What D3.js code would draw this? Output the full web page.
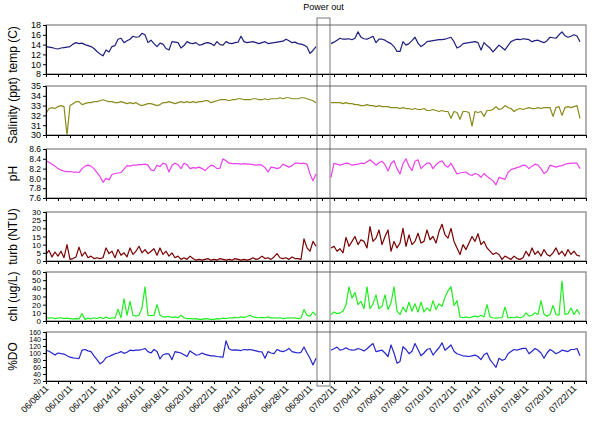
<!DOCTYPE html>
<html>
<head>
<meta charset="utf-8">
<script src="https://cdn.jsdelivr.net/npm/d3@7"></script>
<style>
  body { margin: 0; background: #fff; }
  svg { font-family: "Liberation Sans", Arial, sans-serif; }
  .axis path, .axis line { stroke: #000; }
  .axis text { font-size: 9px; fill: #000; }
</style>
</head>
<body>
<div id="chart"></div>
<script>
// time layout: two logged segments, 6-hourly values, gap = power out
var seg1Start = new Date(2011, 5, 8, 0);
var seg2Start = new Date(2011, 6, 1, 18);
var stepHours = 6;
var outStart = new Date(2011, 5, 30, 14);
var outEnd = new Date(2011, 6, 1, 16);

var tempA = [13.6,13.5,13.4,13.2, 13.1,13.3,13.4,13.5, 13.6,14.1,14.4,14.2, 14.3,14.0,13.8,13.6,
  13.2,12.6,12.1,11.7, 12.9,12.5,13.6,13.8, 15.1,15.3,14.4,14.8, 15.1,15.7,15.5,15.6,
  16.3,16.0,14.4,14.9, 14.2,13.6,14.3,14.1, 13.2,12.9,14.6,14.5, 14.4,13.3,13.8,14.6,
  14.3,14.2,14.4,13.9, 14.0,14.3,14.4,14.2, 13.8,14.6,14.0,13.9, 14.6,14.3,14.2,14.4,
  14.5,15.7,14.6,14.4, 14.5,14.6,14.4,14.2, 14.4,14.6,14.2,14.3, 14.4,14.5,14.6,14.7,
  15.1,14.8,14.4,14.5, 14.2,14.1,13.9,13.5, 12.2,12.8,13.6];
var tempB = [14.2, 14.5,14.9,15.3,15.1, 15.1,15.2,15.0,15.3, 16.6,15.5,15.2,15.1, 15.4,15.7,14.4,15.1,
  15.1,14.9,14.5,14.2, 13.6,12.6,12.6,14.6, 13.9,14.2,14.8,15.5, 14.3,13.6,14.0,14.6,
  14.7,14.8,14.9,15.0, 15.0,15.1,15.3,15.5, 14.6,13.3,13.6,14.2, 14.3,14.4,14.5,14.6,
  14.4,12.9,14.4,13.8, 13.3,12.5,13.2,13.9, 13.4,12.9,13.8,14.6, 14.9,15.1,15.0,15.2,
  15.1,15.0,14.6,14.8, 14.9,14.6,14.4,14.8, 15.5,15.4,15.3,16.0, 16.6,15.8,15.5,15.7,
  16.0,15.75,14.6];

var salA = [32.2,32.7,32.8,32.7, 32.9,33.0,32.9,30.0, 33.0,33.2,33.4,33.4, 33.1,33.2,33.3,33.3,
  33.4,33.4,33.5,33.6, 33.5,33.4,33.4,33.3, 33.3,33.4,33.3,33.2, 33.3,33.2,33.3,33.1,
  33.0,33.1,33.2,33.2, 33.1,33.0,33.1,33.3, 33.3,33.4,33.3,33.2, 33.3,33.4,33.3,33.4,
  33.3,33.4,33.3,33.4, 33.4,33.5,33.5,33.3, 33.4,33.5,33.6,33.6, 33.6,33.5,33.6,33.6,
  33.7,33.7,33.6,33.6, 33.6,33.7,33.7,33.6, 33.6,33.7,33.6,33.7, 33.7,33.7,33.8,33.7,
  33.8,33.8,33.7,33.7, 33.7,33.8,33.8,33.7, 33.6,33.5,33.3];
var salB = [33.3, 33.3,33.3,33.3,33.2, 33.3,33.2,33.2,33.1, 33.1,33.0,33.0,33.1, 33.0,33.0,32.9,33.0,
  32.9,32.9,32.9,32.8, 32.8,32.8,32.7,32.8, 32.7,32.7,32.6,32.7, 32.6,32.6,32.7,32.5,
  32.5,32.6,32.5,32.4, 32.5,32.4,32.4,31.7, 32.4,32.3,31.6,32.4, 32.4,32.3,30.9,32.4,
  32.3,32.4,31.9,32.5, 32.5,32.6,32.9,32.6, 32.7,33.0,32.8,32.7, 32.4,32.6,32.7,32.6,
  32.7,32.8,32.7,32.7, 32.8,32.7,32.8,32.8, 32.8,31.9,32.8,32.9, 32.0,32.8,32.9,32.8,
  32.9,33.0,31.7];

var phA = [8.36,8.33,8.29,8.25, 8.20,8.17,8.15,8.14, 8.14,8.13,8.13,8.12, 8.20,8.25,8.27,8.25,
  8.20,8.12,8.04,7.92, 8.00,7.97,8.08,8.10, 8.11,8.12,8.19,8.26, 8.25,8.27,8.27,8.28,
  8.28,8.29,8.27,8.17, 8.16,8.27,8.24,8.31, 8.29,8.13,8.27,8.31, 8.28,8.20,8.31,8.28,
  8.20,8.22,8.21,8.23, 8.20,8.16,8.22,8.27, 8.25,8.20,8.21,8.40, 8.36,8.31,8.30,8.30,
  8.30,8.29,8.30,8.29, 8.29,8.28,8.27,8.28, 8.27,8.22,8.13,8.23, 8.22,8.20,8.22,8.29,
  8.26,8.23,8.26,8.31, 8.31,8.30,8.31,8.29, 8.09,7.95,8.09];
var phB = [8.02, 8.31,8.29,8.27,8.29, 8.31,8.30,8.27,8.28, 8.29,8.31,8.30,8.34, 8.38,8.33,8.27,8.32,
  8.35,8.28,8.15,8.30, 8.36,8.20,8.09,8.30, 8.40,8.25,8.16,8.35, 8.38,8.20,8.26,8.31,
  8.31,8.20,8.28,8.33, 8.36,8.27,8.23,8.31, 8.20,8.09,8.11,8.12, 8.13,8.08,8.06,8.10,
  8.08,8.02,8.10,8.04, 8.00,7.95,7.87,8.02, 8.00,7.98,8.12,8.18, 8.20,8.22,8.24,8.27,
  8.26,8.20,8.25,8.29, 8.27,8.20,8.10,8.14, 8.27,8.25,8.23,8.25, 8.26,8.29,8.30,8.31,
  8.31,8.31,8.20];

var turbA = [4,6.5,2.5,5.5, 3,6,2,10, 1,1.5,2.5,8.5, 3,5.5,2,3, 1.5,2,1.5,2, 8,4.5,6,2,
  7,3.5,5,2.5, 8,4,6,9, 5,7,4.5,6, 7.5,3.5,8,4, 6,3,5,2, 3,1,2,1, 3,1.5,0.5,1,
  0.5,1,1.5,0.5, 1,0.5,1.5,1, 0.5,1,0.5,1.5, 1,0.5,1,0.5, 1,2,1,1.5, 3,1.5,2,1,
  2.5,4.5,2,1.5, 2,1,2.5,1.5, 1.5,1,13.5,8, 6,12,9];
var turbB = [8, 9,6,7.5,5, 14.5,9,12,15, 10,13,12,8, 21,12,14,19, 10,15,19,6, 12,8,11,20,
  9,16,10,12, 17,11,12,19, 13,15,11,18, 22.5,16,14,20, 12,8,4,10, 7,11,15,12,
  16.7,10,12,8, 6,4,5,4, 1,3,2,1, 3,1.5,1,2, 6,3,8,4, 6,3,7,4, 3,5,8,4, 6,3,7,4,
  6,3.5,3];

var chlA = [4,3.5,4,3, 3.5,4,3,3.5, 3,2.5,3,2.5, 9,2,3.5,2.5, 4,3,4.5,3, 5,3,4,3.5,
  14.5,4,27,7, 24,7,6,7, 16,41.7,7,6.5, 7,20,7,5, 5,5.5,4.5,5, 4,7,4,3, 3,2.5,3,2,
  2,3,2.5,2, 2,3,2.5,3.5, 3,4,3.5,4.5, 4,5,4.5,5.5, 7,5,4.5,4, 4.5,4,5,3.5,
  4,3.5,4,3, 3.5,4,3.5,4, 3,3.5,14,7, 6,11,7];
var chlB = [8, 11,9,10,12, 20,41.7,28,35, 20,24,15,41.7, 15,21,32,15, 18,32,14,22,
  41.7,12,8,17, 11,23,12,21, 11,23,11,16, 12,25,14,21, 18,29,37,42, 19,25,5,4,
  5,4,5,6, 5,7,5,20, 5,4,3.5,4, 4,17,4,4.5, 4,5,4,5, 10,6,7,10, 8,25,8,6,
  8,19,8,7, 49,8,9,16, 8,14,8];

var doA = [108,105,100,94, 100,98,97,92, 88,86,85,84, 108,110,106,104, 92,81,69,75,
  87,90,94,98, 100,104,99,102, 108,107,108,108, 110,113,104,100, 110,104,83,95,
  98,97,81,104, 102,100,95,90, 106,100,94,95, 100,96,94,92, 92,90,89,88,
  135,112,108,109, 108,107,110,109, 110,108,106,104, 103,85,104,100, 98,110,106,104,
  107,113,104,102, 100,102,117,100, 85,66,85];
var doB = [108, 112,117,108,110, 115,110,108,109, 113,110,106,112, 120,127,104,106,
  108,100,90,123, 100,71,76,118, 110,98,105,127, 110,92,100,110, 113,94,105,115,
  129,108,115,123, 105,98,95,92, 91,90,92,94, 90,81,95,100, 81,70,59,85,
  79,82,98,104, 110,108,111,113, 113,98,105,113, 108,100,85,100, 110,105,98,102,
  108,106,104,110, 110,113,92];

var tempTicks = [8,10,12,14,16,18];
var salTicks = [30,31,32,33,34,35];
var phTicks = [7.6,7.8,8.0,8.2,8.4,8.6];
var turbTicks = [0,5,10,15,20,25,30];
var chlTicks = [0,10,20,30,40,50,60];
var doTicks = [20,40,60,80,100,120,140,160];

var panels = [
  {label: "temp (C)", a: tempA, b: tempB, ticks: tempTicks, color: "#1e1e7c", top: 25, fmt: d3.format("d"), fs: 9},
  {label: "Salinity (ppt)", a: salA, b: salB, ticks: salTicks, color: "#8a8a1c", top: 86, fmt: d3.format("d"), fs: 9},
  {label: "pH", a: phA, b: phB, ticks: phTicks, color: "#ec40ec", top: 149, fmt: d3.format(".1f"), fs: 8.5},
  {label: "turb (NTU)", a: turbA, b: turbB, ticks: turbTicks, color: "#780000", top: 212, fmt: d3.format("d"), fs: 8},
  {label: "chl (ug/L)", a: chlA, b: chlB, ticks: chlTicks, color: "#22ec22", top: 272, fmt: d3.format("d"), fs: 8},
  {label: "%DO", a: doA, b: doB, ticks: doTicks, color: "#2626cc", top: 332, fmt: d3.format("d"), fs: 7}
];

var left = 46, right = 586, ph = 49;

var svg = d3.select("#chart").append("svg")
    .attr("width", 600)
    .attr("height", 428);

var x = d3.scaleTime()
    .domain([new Date(2011, 5, 8), new Date(2011, 6, 23)])
    .range([left, right]);

function toPoints(vals, start) {
    return vals.map(function (v, i) {
        return {t: d3.timeHour.offset(start, i * stepHours), v: v};
    });
}

panels.forEach(function (p, k) {
    var y = d3.scaleLinear()
        .domain(d3.extent(p.ticks))
        .range([p.top + ph, p.top]);

    var g = svg.append("g");

    // frame
    g.append("rect")
        .attr("x", left).attr("y", p.top)
        .attr("width", right - left).attr("height", ph)
        .attr("fill", "none")
        .attr("stroke", "#8a8a8a")
        .attr("stroke-width", 1.3);

    g.append("clipPath").attr("id", "clip" + k)
        .append("rect")
        .attr("x", left).attr("y", p.top)
        .attr("width", right - left).attr("height", ph);

    var line = d3.line()
        .x(function (d) { return x(d.t); })
        .y(function (d) { return y(d.v); });

    [toPoints(p.a, seg1Start), toPoints(p.b, seg2Start)].forEach(function (seg) {
        g.append("path")
            .datum(seg)
            .attr("clip-path", "url(#clip" + k + ")")
            .attr("fill", "none")
            .attr("stroke", p.color)
            .attr("stroke-width", 1.2)
            .attr("stroke-linejoin", "round")
            .attr("d", line);
    });

    // y axis
    var ya = g.append("g")
        .attr("class", "axis")
        .attr("transform", "translate(" + left + ",0)")
        .call(d3.axisLeft(y).tickValues(p.ticks).tickFormat(p.fmt).tickSize(3).tickPadding(2));
    ya.selectAll("text").style("font-size", p.fs + "px");

    // x axis, daily ticks
    g.append("g")
        .attr("class", "axis")
        .attr("transform", "translate(0," + (p.top + ph) + ")")
        .call(d3.axisBottom(x).ticks(d3.timeDay.every(1)).tickSize(3).tickFormat(""));

    g.append("text")
        .attr("transform", "translate(17," + (p.top + ph / 2) + ") rotate(-90)")
        .attr("text-anchor", "middle")
        .style("font-size", "12px")
        .text(p.label);
});

// rotated date labels every 2 days
var labelDays = d3.timeDay.range(new Date(2011, 5, 8), new Date(2011, 6, 23), 2);
svg.append("g").selectAll("text")
    .data(labelDays)
    .enter().append("text")
    .attr("transform", function (d) {
        return "translate(" + (x(d) + 3) + ",389) rotate(-45)";
    })
    .attr("text-anchor", "end")
    .style("font-size", "9px")
    .text(d3.timeFormat("%m/%d/%y"));

// power outage box
svg.append("rect")
    .attr("x", x(outStart)).attr("y", 18)
    .attr("width", x(outEnd) - x(outStart)).attr("height", 368)
    .attr("fill", "none")
    .attr("stroke", "#555")
    .attr("stroke-width", 0.8);

svg.append("text")
    .attr("x", (x(outStart) + x(outEnd)) / 2)
    .attr("y", 10)
    .attr("text-anchor", "middle")
    .style("font-size", "9px")
    .text("Power out");
</script>
</body>
</html>
